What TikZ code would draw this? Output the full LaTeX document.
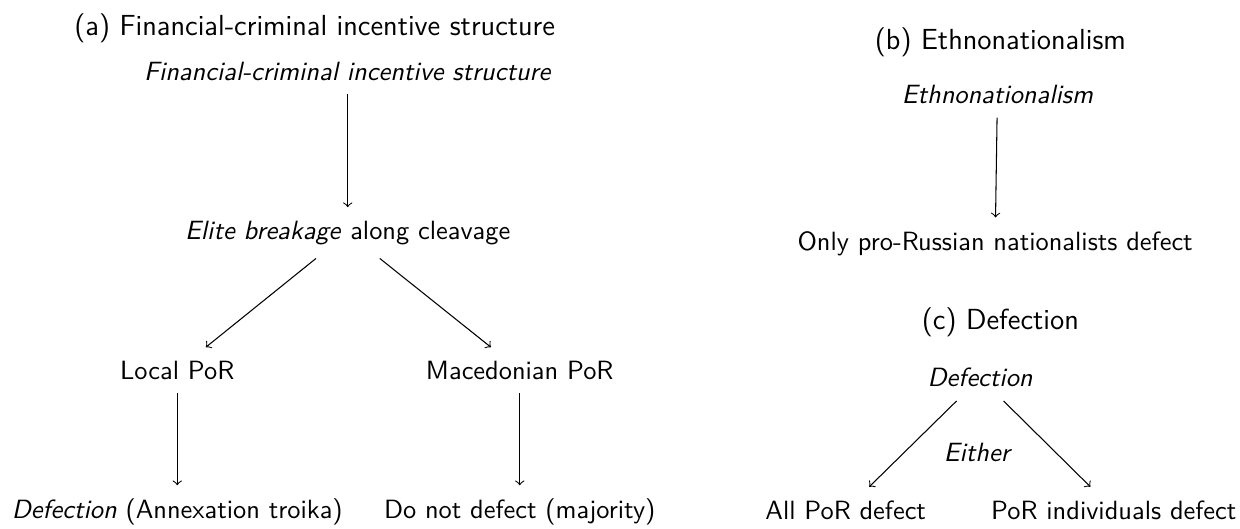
\documentclass[tikz,border=0pt]{standalone}
\usepackage{fontspec}
\renewcommand{\familydefault}{\sfdefault}
\usepackage{tikz}
\usetikzlibrary{arrows, positioning}
\tikzstyle{tnode} = [inner sep = 5pt]
\tikzstyle{title} = [inner sep = 2pt, font = \fontsize{11}{13}\selectfont]
\tikzstyle{line} = [draw, ->]

\begin{document}
\begin{tikzpicture}
			\useasboundingbox (0,0) rectangle (16.51,-7.04);
			% (a)
			\node [title] (ta) at (4.19, -0.37) {(a) Financial-criminal incentive structure};
			\node [tnode] (fin) at (4.63, -0.95) {\textit{Financial-criminal incentive structure}};
			\node [tnode] (elite) at (4.63, -3.10) {\textit{Elite breakage} along cleavage};
			\node [tnode] (local) at (2.36, -4.93) {Local PoR};
			\node [tnode] (maced) at (6.92, -4.93) {Macedonian PoR};
			\node [tnode] (troika) at (2.36, -6.82) {\textit{Defection} (Annexation troika)};
			\node [tnode] (major) at (6.92, -6.82) {Do not defect (majority)};
			% (b)
			\node [title] (tb) at (13.32, -0.56) {(b) Ethnonationalism};
			\node [tnode] (ethno) at (13.28, -1.26) {\textit{Ethnonationalism}};
			\node [tnode] (only) at (13.25, -3.24) {Only pro-Russian nationalists defect};
			% (c)
			\node [title] (tc) at (13.32, -4.29) {(c) Defection};
			\node [tnode] (defc) at (13.05, -5.03) {\textit{Defection}};
			\node [tnode] (either) at (13.02, -6.03) {\textit{Either}};
			\node [tnode] (all) at (11.26, -6.79) {All PoR defect};
			\node [tnode] (indiv) at (14.83, -6.79) {PoR individuals defect};

			\path [line] (fin) -- (elite);
			\path [line] (elite) -- (local);
			\path [line] (elite) -- (maced);
			\path [line] (local) -- (troika);
			\path [line] (maced) -- (major);
			\path [line] (ethno) -- (only);
			\path [line] (defc) -- (all);
			\path [line] (defc) -- (indiv);
		\end{tikzpicture}
\end{document}
